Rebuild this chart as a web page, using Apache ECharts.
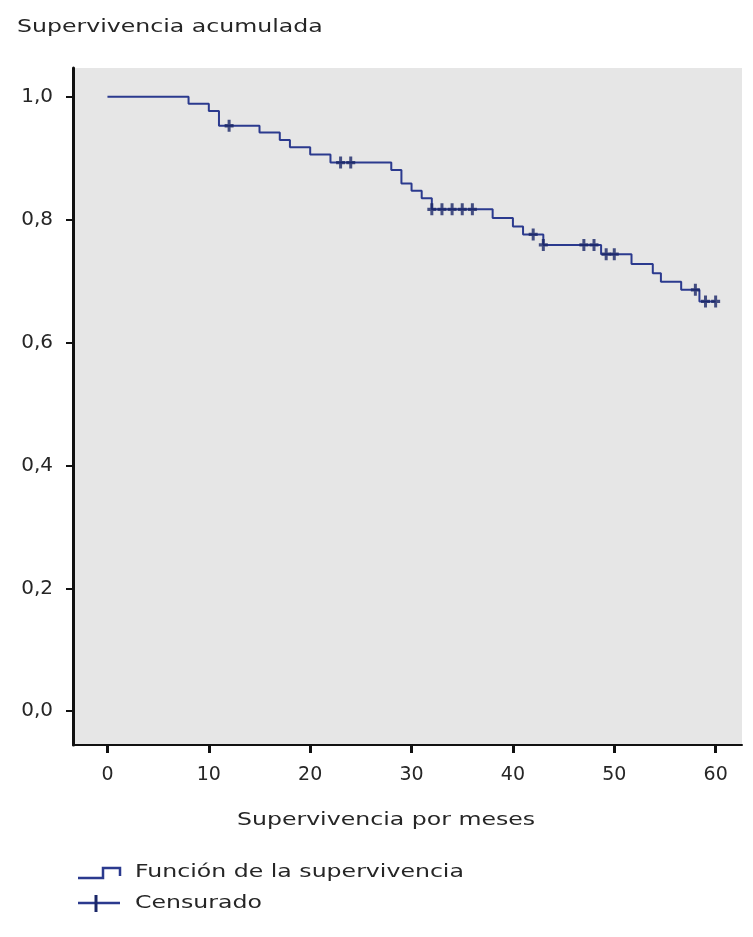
<!DOCTYPE html>
<html>
<head>
<meta charset="utf-8">
<script src="https://cdn.jsdelivr.net/npm/echarts@6/dist/echarts.min.js"></script>
<style>
html,body{margin:0;padding:0;background:#fff;}
#chart{width:753px;height:937px;}
</style>
</head>
<body>
<div id="chart"></div>
<script>
// Kaplan-Meier step curve: time (months) and cumulative survival after each step
const stepTimes = [0, 8, 10, 11, 15, 17, 18, 20, 22, 28, 29, 30, 31, 32, 38, 40, 41, 43, 48.7, 51.7, 53.8, 54.6, 56.6, 58.4, 60];
const stepSurv  = [1.0, 0.989, 0.977, 0.953, 0.942, 0.930, 0.918, 0.906, 0.893, 0.881, 0.859, 0.847, 0.835, 0.817, 0.803, 0.789, 0.776, 0.759, 0.744, 0.728, 0.713, 0.699, 0.686, 0.667, 0.667];
// Censored observations
const censorTimes = [12, 23, 24, 32, 33, 34, 35, 36, 42, 43, 47, 48, 49.2, 50, 58, 59, 60];
const censorSurv  = [0.953, 0.893, 0.893, 0.817, 0.817, 0.817, 0.817, 0.817, 0.776, 0.759, 0.759, 0.759, 0.744, 0.744, 0.686, 0.667, 0.667];
// Tick labels
const xTicks = [0, 10, 20, 30, 40, 50, 60];
const yTicks = [0, 0.2, 0.4, 0.6, 0.8, 1.0];
const yTitle = 'Supervivencia acumulada';
const xTitle = 'Supervivencia por meses';
const legendNames = ['Función de la supervivencia', 'Censurado'];

const lineColor = '#2b3a8e';
const markColor = '#1a2768';
const textColor = '#262626';
const FONT = 'DejaVu Sans';
const SX = 1.35; // horizontal stretch of the reference text

const chart = echarts.init(document.getElementById('chart'));
const stepData = stepTimes.map((t, i) => [t, stepSurv[i]]);
const censorData = censorTimes.map((t, i) => [t, censorSurv[i]]);

function stretchedText(x, y, text, align) {
  return {
    type: 'text', x: x, y: y, scaleX: SX, scaleY: 1, z: 100,
    style: { text: text, x: 0, y: 0, fill: textColor, font: '17.5px "' + FONT + '"',
             align: align || 'left', verticalAlign: 'middle' }
  };
}

chart.setOption({
  animation: false,
  backgroundColor: '#ffffff',
  grid: { left: 73, right: 11, top: 68, bottom: 192, show: true, backgroundColor: '#e6e6e6', borderWidth: 0 },
  xAxis: {
    type: 'value', min: -3.4, max: 62.6,
    splitLine: { show: false },
    axisLine: { show: true, onZero: false, lineStyle: { color: '#111', width: 2 } },
    axisTick: { show: true, customValues: xTicks, length: 8, lineStyle: { color: '#111', width: 3 } },
    axisLabel: { customValues: xTicks, margin: 21, color: textColor, fontFamily: FONT, fontSize: 19 }
  },
  yAxis: {
    type: 'value', min: -0.055, max: 1.047,
    splitLine: { show: false },
    axisLine: { show: true, onZero: false, lineStyle: { color: '#111', width: 3 } },
    axisTick: { show: true, customValues: yTicks, length: 7, lineStyle: { color: '#111', width: 2 } },
    axisLabel: { customValues: yTicks, margin: 20, color: textColor, fontFamily: FONT, fontSize: 20,
                 formatter: v => v.toFixed(1).replace('.', ',') }
  },
  series: [
    {
      name: legendNames[0], type: 'line', step: 'end', data: stepData,
      showSymbol: false, symbol: 'none',
      lineStyle: { color: lineColor, width: 2 }, z: 3
    },
    {
      name: legendNames[1], type: 'scatter', data: censorData,
      symbol: 'path://M3,0 H6 V4 H9 V7 H6 V11 H3 V7 H0 V4 H3 Z',
      symbolSize: [9, 12], symbolKeepAspect: false,
      itemStyle: { color: markColor }, z: 4
    }
  ],
  graphic: [
    stretchedText(17, 27, yTitle, 'left'),
    stretchedText(386, 820, xTitle, 'center'),
    stretchedText(135, 872, legendNames[0], 'left'),
    stretchedText(135, 903, legendNames[1], 'left'),
    { type: 'polyline', shape: { points: [[78, 878], [103, 878], [103, 868], [120, 868], [120, 876]] },
      style: { stroke: lineColor, lineWidth: 2.5, fill: null } },
    { type: 'line', shape: { x1: 78, y1: 903, x2: 120, y2: 903 }, style: { stroke: lineColor, lineWidth: 2.5 } },
    { type: 'line', shape: { x1: 96, y1: 895, x2: 96, y2: 912 }, style: { stroke: markColor, lineWidth: 3 } }
  ]
});
</script>
</body>
</html>
